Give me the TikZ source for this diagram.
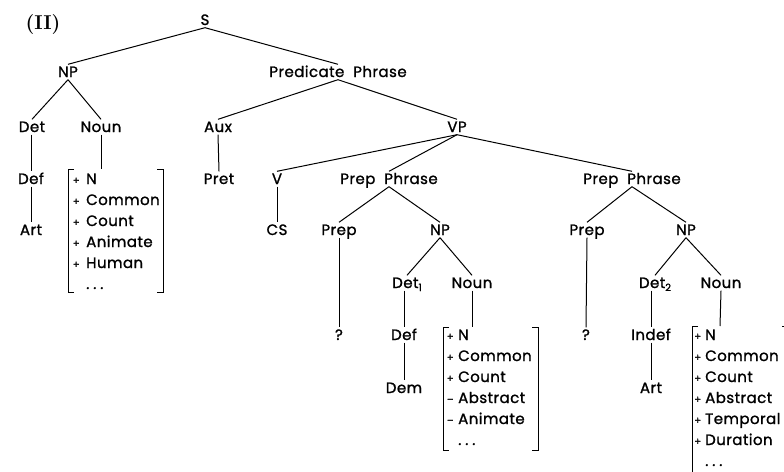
\documentclass[tikz,border=0pt]{standalone}
\usepackage{fontspec}
\setmainfont{Poppins}[FakeBold=1.2,LetterSpace=3,WordSpace=2]
\newfontfamily\romanbf{Latin Modern Roman}
\tikzset{
  lbl/.style={anchor=base, inner sep=1.5pt, text height=11pt, text depth=1pt, font=\fontsize{15}{15}\selectfont},
  feat/.style={anchor=base west, inner sep=0pt, font=\fontsize{15}{15}\selectfont},
  edge/.style={draw=black, line width=1pt},
  brk/.style={draw=black, line width=1pt},
}
\newcommand{\sgn}[2]{\makebox[#1][c]{\fontsize{10}{10}\selectfont #2}}
\newcommand{\sub}[1]{\raisebox{-3pt}{\fontsize{10}{10}\selectfont #1}}
\newcommand{\etcdots}{\makebox[4pt][l]{.}\hspace{3pt}\makebox[4pt][l]{.}\hspace{3pt}\makebox[4pt][l]{.}}
\begin{document}
\begin{tikzpicture}[x=1pt,y=-1pt]
\useasboundingbox (0,0) rectangle (784,471);
\clip (0,0) rectangle (784,471);
\fill[white] (0,0) rectangle (784,471);
\node[anchor=base, inner sep=0pt, font=\romanbf\bfseries\fontsize{20}{20}\selectfont] (title) at (43,29) {(II)};
% tree nodes
\node[lbl] (S) at (205,25) {S};
\node[lbl] (NP) at (68,77) {NP};
\node[lbl] (PredP) at (338,77) {Predicate Phrase};
\node[lbl] (Det) at (32,132) {Det};
\node[lbl] (Noun) at (101,132) {Noun};
\node[lbl] (Aux) at (218,132) {Aux};
\node[lbl] (VP) at (457,132) {VP};
\node[lbl] (Def) at (31,184) {Def};
\node[lbl] (Art) at (31,235) {Art};
\node[lbl] (Pret) at (219,184) {Pret};
\node[lbl] (V) at (277,184) {V};
\node[lbl] (CS) at (277,235) {CS};
\node[lbl] (PPa) at (389,184) {Prep Phrase};
\node[lbl] (PPb) at (632,184) {Prep Phrase};
\node[lbl] (Prepa) at (339,235) {Prep};
\node[lbl] (NPa) at (440,235) {NP};
\node[lbl] (Prepb) at (587,235) {Prep};
\node[lbl] (NPb) at (686,235) {NP};
\node[lbl] (Deta) at (407,288) {Det\sub{1}};
\node[lbl] (Nouna) at (472,288) {Noun};
\node[lbl] (Detb) at (655,288) {Det\sub{2}};
\node[lbl] (Nounb) at (721,288) {Noun};
\node[lbl] (Qa) at (339,340) {?};
\node[lbl] (Defa) at (404,340) {Def};
\node[lbl] (Dem) at (404,393) {Dem};
\node[lbl] (Qb) at (586,340) {?};
\node[lbl] (Indef) at (651,340) {Indef};
\node[lbl] (Artb) at (651,393) {Art};
% bracket tops
\coordinate (Ba) at (101,169);
\coordinate (Bb) at (472,327);
\coordinate (Bc) at (720,326);
% edges
\draw[edge] (S.south) -- (NP.north);
\draw[edge] (S.south) -- (PredP.north);
\draw[edge] (NP.south) -- (Det.north);
\draw[edge] (NP.south) -- (Noun.north);
\draw[edge] (Def.north |- Det.south) -- (Def.north);
\draw[edge] (Def.south) -- (Art.north);
\draw[edge] (Noun.south) -- (Ba);
\draw[edge] (PredP.south) -- (Aux.north);
\draw[edge] (PredP.south) -- (VP.north);
\draw[edge] (Aux.south) -- (Pret.north);
\draw[edge] (VP.south) -- (V.north);
\draw[edge] (VP.south) -- (PPa.north);
\draw[edge] (VP.south) -- (PPb.north);
\draw[edge] (V.south) -- (CS.north);
\draw[edge] (PPa.south) -- (Prepa.north);
\draw[edge] (PPa.south) -- (NPa.north);
\draw[edge] (PPb.south) -- (Prepb.north);
\draw[edge] (PPb.south) -- (NPb.north);
\draw[edge] (Prepa.south) -- (Qa.north);
\draw[edge] (Prepb.south) -- (Qb.north);
\draw[edge] (NPa.south) -- (Deta.north);
\draw[edge] (NPa.south) -- (Nouna.north);
\draw[edge] (NPb.south) -- (Detb.north);
\draw[edge] (NPb.south) -- (Nounb.north);
\draw[edge] (Defa.north |- Deta.south) -- (Defa.north);
\draw[edge] (Defa.south) -- (Dem.north);
\draw[edge] (Indef.north |- Detb.south) -- (Indef.north);
\draw[edge] (Indef.south) -- (Artb.north);
\draw[edge] (Nouna.south) -- (Bb);
\draw[edge] (Nounb.south) -- (Bc);
% bracket 1
\draw[brk] (74,169) -- (68,169) -- (68,292) -- (74,292);
\draw[brk] (157,169) -- (163,169) -- (163,292) -- (157,292);
\node[feat] (fa1) at (70,184) {\sgn{12pt}{+}\hspace{4pt}N};
\node[feat] (fa2) at (70,205) {\sgn{12pt}{+}\hspace{4pt}Common};
\node[feat] (fa3) at (70,226) {\sgn{12pt}{+}\hspace{4pt}Count};
\node[feat] (fa4) at (70,247) {\sgn{12pt}{+}\hspace{4pt}Animate};
\node[feat] (fa5) at (70,268) {\sgn{12pt}{+}\hspace{4pt}Human};
\node[feat] (fa6) at (70,289) {\sgn{12pt}{}\hspace{4pt}\etcdots};
% bracket 2
\draw[brk] (449,327) -- (443,327) -- (443,450) -- (449,450);
\draw[brk] (532,327) -- (538,327) -- (538,450) -- (532,450);
\node[feat] (fb1) at (445,340) {\sgn{10pt}{+}\hspace{3pt}N};
\node[feat] (fb2) at (445,361) {\sgn{10pt}{+}\hspace{3pt}Common};
\node[feat] (fb3) at (445,382) {\sgn{10pt}{+}\hspace{3pt}Count};
\node[feat] (fb4) at (445,403) {\sgn{10pt}{--}\hspace{3pt}Abstract};
\node[feat] (fb5) at (445,424) {\sgn{10pt}{--}\hspace{3pt}Animate};
\node[feat] (fb6) at (445,445) {\sgn{10pt}{}\hspace{3pt}\etcdots};
% bracket 3
\draw[brk] (698,326) -- (692,326) -- (692,480);
\draw[brk] (782,326) -- (788,326) -- (788,480);
\node[feat] (fc1) at (693,340) {\sgn{9pt}{+}\hspace{3pt}N};
\node[feat] (fc2) at (693,361) {\sgn{9pt}{+}\hspace{3pt}Common};
\node[feat] (fc3) at (693,382) {\sgn{9pt}{+}\hspace{3pt}Count};
\node[feat] (fc4) at (693,403) {\sgn{9pt}{+}\hspace{3pt}Abstract};
\node[feat] (fc5) at (693,424) {\sgn{9pt}{+}\hspace{3pt}Temporal};
\node[feat] (fc6) at (693,445) {\sgn{9pt}{+}\hspace{3pt}Duration};
\node[feat] (fc7) at (693,466) {\sgn{9pt}{}\hspace{3pt}\etcdots};
\end{tikzpicture}
\end{document}
